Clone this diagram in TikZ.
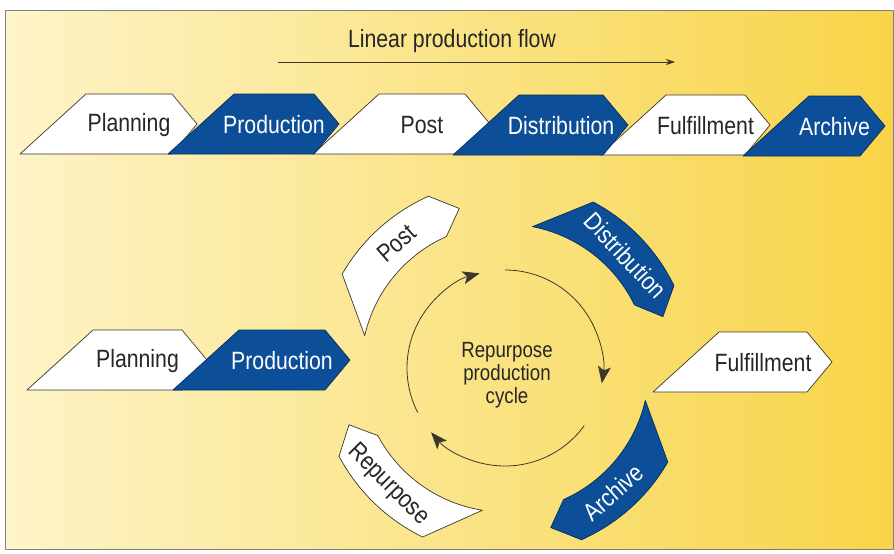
\documentclass[tikz,border=0pt]{standalone}
\usepackage{fontspec}
\setmainfont{Liberation Sans}[FakeStretch=0.85]
\usetikzlibrary{arrows.meta, calc}
\definecolor{cB}{RGB}{12,78,152}
\definecolor{cYl}{RGB}{253,244,200}
\definecolor{cYr}{RGB}{248,212,72}
\definecolor{cL}{RGB}{60,55,45}

% straight step: name, left x, right x, top y, w/b, text
\newcommand{\flowbox}[6]{%
  \draw[#5box] (#2,{#4+60}) -- ({#2+66},#4) -- (#3,#4) -- ({#3+25},{#4+30}) -- (#3,{#4+60}) -- cycle;
  \node[#5text] (#1) at ({(#2+66+#3)/2},{#4+31}) {#6};
}
% bent step round the cycle: name, tail angle, w/b, text, text rotation
\newcommand{\cyclebox}[5]{%
  \draw[#3box] (#2:188) arc[start angle=#2, end angle={#2-36}, radius=188]
    -- ({#2-44}:166) -- ({#2-36}:144) arc[start angle={#2-36}, end angle={#2+17}, radius=144] -- cycle;
  \node[#3text, rotate=#5] (#1) at ({#2-19}:165) {#4};
}

\begin{document}
\begin{tikzpicture}[x=1pt, y=-1pt, line join=round,
    wbox/.style={fill=white, draw=cL, line width=0.7pt},
    bbox/.style={fill=cB, draw=cB!60!black, line width=0.7pt},
    wtext/.style={text=black!85, font=\fontsize{25}{28}\selectfont},
    btext/.style={text=white, font=\fontsize{25}{28}\selectfont},
    cyc/.style={draw=cL, line width=0.8pt, -{Stealth[length=17pt, width=13pt, inset=4pt]}}]
    \useasboundingbox (0,0) rectangle (894,554);
    \shade[left color=cYl, right color=cYr] (5,10) rectangle (893,549);
    \draw[gray, line width=0.7pt] (5,10) rectangle (893,549);

    % linear flow
    \node[wtext] (flow) at (452,41) {Linear production flow};
    \coordinate (flowL) at (278,62);
    \coordinate (flowR) at (675,62);
    \draw[cL, line width=0.8pt, -{Stealth[length=9pt, width=6pt]}] (flowL) -- (flowR);

    \flowbox{plan}{20}{172}{94}{w}{Planning}
    \flowbox{post}{313}{465}{94}{w}{Post}
    \flowbox{fulf}{600}{745}{95}{w}{Fulfillment}
    \flowbox{prod}{168}{314}{94}{b}{Production}
    \flowbox{dist}{453}{603}{95}{b}{Distribution}
    \flowbox{arch}{743}{860}{96}{b}{Archive}

    % repurpose cycle
    \flowbox{planB}{27}{182}{330}{w}{Planning}
    \flowbox{prodB}{173}{325}{330}{b}{Production}
    \flowbox{fulfB}{653}{807}{332}{w}{Fulfillment}

    \begin{scope}[shift={(505,368)}, y=1pt]
        \cyclebox{postB}{150}{w}{Post}{41}
        \cyclebox{distB}{62}{b}{Distribution}{-47}
        \cyclebox{archB}{-30}{b}{Archive}{41}
        \cyclebox{repu}{-116}{w}{Repurpose}{-45}
        \node[wtext, font=\fontsize{22}{23}\selectfont, align=center] (cycle) at (2,-7) {Repurpose\\production\\cycle};
        \draw[cyc] (90:98) arc[start angle=90, end angle=-9, radius=98];
        \draw[cyc] (-36:98) arc[start angle=-36, end angle=-139, radius=98];
        \draw[cyc] (-153:98) arc[start angle=-153, end angle=-255, radius=98];
    \end{scope}
\end{tikzpicture}
\end{document}
